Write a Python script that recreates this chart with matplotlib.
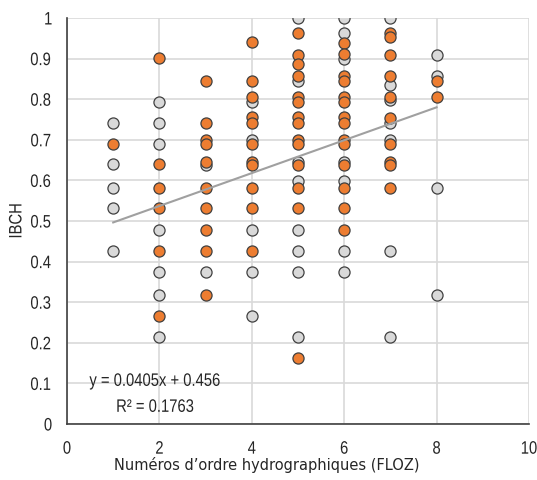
import matplotlib
matplotlib.use('Agg')
import matplotlib.pyplot as plt
import matplotlib.patheffects as pe
from matplotlib.path import Path
from matplotlib.transforms import Affine2D
import numpy as np

# IBCH values, grey and orange series
gray_x = [1]*5 + [2]*7 + [3]*2 + [4]*5 + [5]*8 + [6]*7 + [7]*7 + [8]*4
gray_y = [0.742, 0.640, 0.582, 0.531, 0.426,
          0.794, 0.742, 0.690, 0.479, 0.375, 0.318, 0.215,
          0.637, 0.375,
          0.794, 0.700, 0.479, 0.375, 0.267,
          1.000, 0.846, 0.645, 0.598, 0.479, 0.426, 0.375, 0.215,
          1.000, 0.962, 0.900, 0.645, 0.598, 0.426, 0.375,
          1.000, 0.835, 0.797, 0.742, 0.700, 0.426, 0.214,
          0.909, 0.858, 0.582, 0.318]

orange_x = [1]*1 + [2]*6 + [3]*10 + [4]*11 + [5]*14 + [6]*14 + [7]*10 + [8]*2
orange_y = [0.690,
            0.901, 0.640, 0.582, 0.531, 0.426, 0.267,
            0.846, 0.742, 0.700, 0.690, 0.645, 0.582, 0.531, 0.479, 0.426, 0.318,
            0.940, 0.846, 0.805, 0.756, 0.742, 0.689, 0.645, 0.637, 0.582, 0.531, 0.426,
            0.962, 0.909, 0.887, 0.857, 0.805, 0.794, 0.756, 0.742, 0.700, 0.690, 0.637, 0.582, 0.531, 0.162,
            0.939, 0.912, 0.857, 0.846, 0.805, 0.794, 0.756, 0.742, 0.700, 0.690, 0.637, 0.582, 0.531, 0.479,
            0.962, 0.952, 0.909, 0.857, 0.805, 0.754, 0.690, 0.645, 0.637, 0.582,
            0.846, 0.805]

slope, intercept = 0.0405, 0.456
trend_x = [1, 8]


# narrow font not installed -> squeeze Liberation Sans horizontally around each text's centre
class Squeeze(pe.AbstractPathEffect):
    def __init__(self, sx):
        super().__init__()
        self.sx = sx

    def draw_path(self, renderer, gc, tpath, affine, rgbFace=None):
        v = tpath.vertices
        if tpath.codes is not None:
            v = v[tpath.codes != Path.CLOSEPOLY]
        cx = (v[:, 0].min() + v[:, 0].max()) / 2 if len(v) else 0
        t = Affine2D().translate(-cx, 0).scale(self.sx, 1).translate(cx, 0) + affine
        renderer.draw_path(gc, tpath, t, rgbFace)


sq = [Squeeze(0.82)]

fig = plt.figure(figsize=(5.37, 4.81), dpi=100)
ax = fig.add_axes([0.1248, 0.1164, 0.8602, 0.8441])

ax.scatter(gray_x, gray_y, s=64, color='#D9D9D9', edgecolor='#404040', linewidth=0.9, zorder=3)
ax.scatter(orange_x, orange_y, s=64, color='#ED7D31', edgecolor='#404040', linewidth=0.9, zorder=4)
tx = np.array(trend_x)
ax.plot(tx, slope*tx + intercept, color='#A0A0A0', linewidth=1.5, zorder=5)

ax.set_xlim(0, 10)
ax.set_ylim(0, 1)
ax.set_xticks([0, 2, 4, 6, 8, 10])
ax.set_yticks(np.arange(0, 1.01, 0.1))
ax.set_yticklabels(['0', '0.1', '0.2', '0.3', '0.4', '0.5', '0.6', '0.7', '0.8', '0.9', '1'])
ax.grid(color='#D9D9D9', linewidth=1.2, zorder=0)
ax.set_axisbelow(True)
for s in ['top', 'right']:
    ax.spines[s].set_visible(False)
ax.spines['left'].set_color('#404040')
ax.spines['bottom'].set_color('#404040')
ax.spines['left'].set_linewidth(1.2)
ax.spines['bottom'].set_linewidth(1.2)
ax.tick_params(axis='y', length=0, pad=10, labelsize=13, labelcolor='#262626')
ax.tick_params(axis='x', length=0, pad=12, labelsize=13, labelcolor='#262626')
for lab in ax.get_xticklabels() + ax.get_yticklabels():
    lab.set_family('Liberation Sans')
    lab.set_path_effects(sq)

ax.set_xlabel("Numéros d’ordre hydrographiques (FLOZ)", fontsize=10.5, family='DejaVu Sans', color='#262626')
ax.xaxis.set_label_coords(0.433, -0.079)
ax.set_ylabel('IBCH', fontsize=13, family='Liberation Sans', color='#262626', path_effects=sq)
ax.yaxis.set_label_coords(-0.09, 0.5)

ax.text(1.90, 0.094, 'y = 0.0405x + 0.456', ha='center', va='baseline', fontsize=13,
        family='Liberation Sans', color='#262626', path_effects=sq)
ax.text(1.90, 0.030, 'R² = 0.1763', ha='center', va='baseline', fontsize=13,
        family='Liberation Sans', color='#262626', path_effects=sq)

plt.savefig('out.png', dpi=100)
